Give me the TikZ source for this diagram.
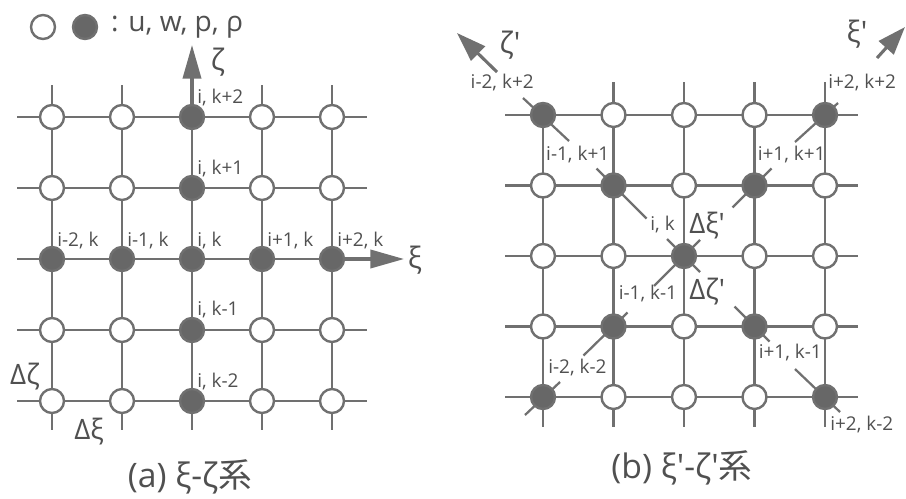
\documentclass[tikz,border=0pt]{standalone}
\usepackage{fontspec}
\setmainfont{Open Sans}[Ligatures=TeXOff]
\newfontfamily\cjk{Noto Sans CJK JP}
\usetikzlibrary{arrows.meta,positioning,calc,backgrounds}
\definecolor{ink}{HTML}{707070}
\definecolor{dot}{HTML}{676767}
\definecolor{txt}{HTML}{505050}

\begin{document}
\begin{tikzpicture}[x=0.25mm,y=-0.25mm,
  pt/.style={circle,draw=ink,line width=1.7pt,minimum size=6mm,inner sep=0pt},
  grid/.style={ink,line width=1.6pt},
  lab/.style={txt,font=\fontsize{13.5}{15}\selectfont,inner sep=0pt},
  big/.style={txt,font=\fontsize{18}{20}\selectfont,inner sep=0pt},
  axis/.style={ink,line width=2.2pt,-{Triangle[length=24pt,width=13pt]}}]
  \useasboundingbox (0,0) rectangle (906,498);

  % (a) xi-zeta
  \foreach \c in {0,...,4}
    \foreach \r in {0,...,4} {
      \ifnum\c=2 \def\fc{dot}\else\ifnum\r=2 \def\fc{dot}\else\def\fc{white}\fi\fi
      \node[pt,fill=\fc] (L\c\r) at (52+70*\c,117+71*\r) {};
    }
  \begin{scope}[on background layer]
    \foreach \r in {0,1,3,4}
      \draw[grid] ($(L0\r)+(-35,0)$) -- ($(L4\r)+(35,0)$);
    \draw[grid] ($(L02)+(-35,0)$) -- (L42);
    \foreach \c in {0,1,3,4}
      \draw[grid] ($(L\c0)+(0,-32)$) -- ($(L\c4)+(0,29)$);
    \draw[grid] (L20) -- ($(L24)+(0,29)$);
  \end{scope}
  \coordinate (zt) at ($(L20)+(0,-72)$);
  \coordinate (xt) at ($(L42)+(72,0)$);
  \draw[axis] (L20) -- (zt);
  \draw[axis] (L42) -- (xt);
  \node[big,font=\fontsize{21}{24}\selectfont] (zlab) at (218,62) {ζ};
  \node[big,font=\fontsize{21}{24}\selectfont] (xlab) at (415,260) {ξ};

  \node[lab,anchor=base west] (a1) at ($(L20)+(5,-14)$) {i, k+2};
  \node[lab,anchor=base west] (a2) at ($(L21)+(5,-14)$) {i, k+1};
  \node[lab,anchor=base west] (a3) at ($(L02)+(5,-13)$) {i-2, k};
  \node[lab,anchor=base west] (a4) at ($(L12)+(5,-13)$) {i-1, k};
  \node[lab,anchor=base west] (a5) at ($(L22)+(5,-13)$) {i, k};
  \node[lab,anchor=base west] (a6) at ($(L32)+(5,-13)$) {i+1, k};
  \node[lab,anchor=base west] (a7) at ($(L42)+(5,-13)$) {i+2, k};
  \node[lab,anchor=base west] (a8) at ($(L23)+(5,-15)$) {i, k-1};
  \node[lab,anchor=base west] (a9) at ($(L24)+(5,-14)$) {i, k-2};
  \node[big,font=\fontsize{20}{22}\selectfont] (dz) at (25,377) {Δζ};
  \node[big,font=\fontsize{20}{22}\selectfont] (dx) at (89,432) {Δξ};

  % legend
  \node[pt,fill=white] (lgo) at (43,27) {};
  \node[pt,fill=dot] (lgf) at (85,27) {};
  \node[big,font=\fontsize{20}{22}\selectfont,right=9pt of lgf] (lgt) {: u, w, p, ρ};

  % (b) xi'-zeta'
  \foreach \c in {0,...,4}
    \foreach \r in {0,...,4} {
      \ifnum\c=\r \def\fc{dot}\else\ifnum\numexpr\c+\r\relax=4 \def\fc{dot}\else\def\fc{white}\fi\fi
      \node[pt,fill=\fc] (R\c\r) at (543+70.5*\c,115+70.5*\r) {};
    }
  \begin{scope}[on background layer]
    \foreach \r in {0,...,4}
      \draw[grid] ($(R0\r)+(-38,0)$) -- ($(R4\r)+(33,0)$);
    \foreach \c in {1,...,4}
      \draw[grid] ($(R\c0)+(0,-33)$) -- ($(R\c4)+(0,30)$);
    \draw[grid] (R00) -- ($(R04)+(0,30)$);
    \foreach \n/\ax/\ay/\bx/\by in {R00/-20/-17/26/26, R11/-17/-17/33/33,
        R31/-22/22/17/-17, R40/-30/27/13/-12, R13/-30/29/14/-14,
        R04/-18/18/17/-15, R33/-20/-20/15/15, R44/-30/-28/15/15}
      \draw[grid] ($(\n)+(\ax,\ay)$) -- ($(\n)+(\bx,\by)$);
    \draw[grid] ($(R22)+(-17,-17)$) -- ($(R22)+(16,16)$);
    \draw[grid] ($(R22)+(-30,30)$) -- ($(R22)+(16,-16)$);
  \end{scope}
  \coordinate (zs) at (497,72);
  \coordinate (zst) at (457,33);
  \coordinate (xs) at (877,58);
  \coordinate (xst) at (905,27);
  \draw[axis,-{Triangle[length=21pt,width=14pt]}] (zs) -- (zst);
  \draw[axis,-{Triangle[length=20pt,width=14pt]}] (xs) -- (xst);
  \node[big,font=\fontsize{21}{24}\selectfont] (zslab) at (510,45) {ζ'};
  \node[big,font=\fontsize{21}{24}\selectfont] (xslab) at (857,34) {ξ'};

  \node[lab,anchor=base east] (b1) at ($(R00)+(-9,-27)$) {i-2, k+2};
  \node[lab,anchor=base west] (b2) at ($(R40)+(3,-27)$) {i+2, k+2};
  \node[lab,anchor=base east] (b3) at ($(R11)+(-4,-25)$) {i-1, k+1};
  \node[lab,anchor=base west] (b4) at ($(R31)+(3,-25)$) {i+1, k+1};
  \node[lab,anchor=base east] (b5) at ($(R22)+(-9,-26)$) {i, k};
  \node[lab,anchor=base west] (b6) at ($(R13)+(5,-27)$) {i-1, k-1};
  \node[lab,anchor=base west] (b7) at ($(R04)+(5,-24)$) {i-2, k-2};
  \node[lab,anchor=base west] (b8) at ($(R33)+(4,32)$) {i+1, k-1};
  \node[lab,anchor=base west] (b9) at ($(R44)+(5,33)$) {i+2, k-2};
  \node[big,font=\fontsize{20}{22}\selectfont,anchor=west] (dxs) at (689,226) {Δξ'};
  \node[big,font=\fontsize{20}{22}\selectfont,anchor=west] (dzs) at (689,292) {Δζ'};

  \node[big,font=\fontsize{24}{26}\selectfont] (capa) at (190,477) {(a) ξ-ζ{\cjk 系}};
  \node[big,font=\fontsize{24}{26}\selectfont] (capb) at (682,468) {(b) ξ'-ζ'{\cjk 系}};
\end{tikzpicture}
\end{document}
